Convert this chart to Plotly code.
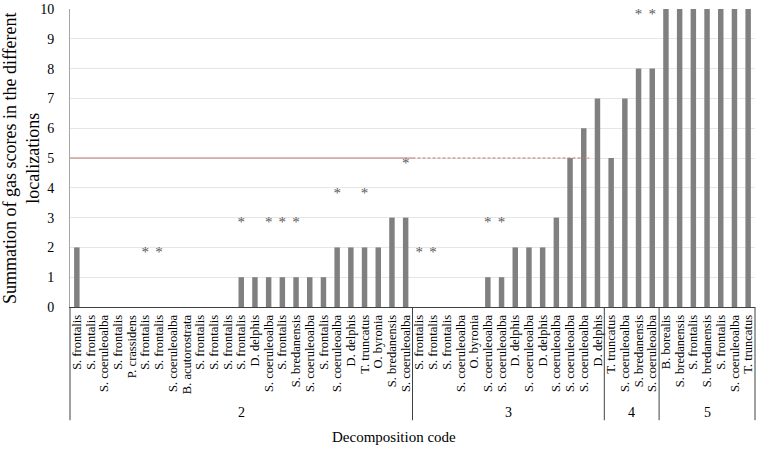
import plotly.graph_objects as go

# ---- data ----
group_codes = ["2", "3", "4", "5"]
group_sizes = [25, 14, 4, 7]

species = [
    # code 2
    "S. frontalis", "S. frontalis", "S. coeruleoalba", "S. frontalis", "P. crassidens",
    "S. frontalis", "S. frontalis", "S. coeruleoalba", "B. acutorostrata", "S. frontalis",
    "S. frontalis", "S. frontalis", "S. frontalis", "D. delphis", "S. coeruleoalba",
    "S. frontalis", "S. bredanensis", "S. coeruleoalba", "S. frontalis", "S. coeruleoalba",
    "D. delphis", "T. truncatus", "O. byronia", "S. bredanensis", "S. coeruleoalba",
    # code 3
    "S. frontalis", "S. frontalis", "S. frontalis", "S. coeruleoalba", "O. byronia",
    "S. coeruleoalba", "S. coeruleoalba", "D. delphis", "S. coeruleoalba", "D. delphis",
    "S. coeruleoalba", "S. coeruleoalba", "S. coeruleoalba", "D. delphis",
    # code 4
    "T. truncatus", "S. coeruleoalba", "S. bredanensis", "S. coeruleoalba",
    # code 5
    "B. borealis", "S. bredanensis", "S. frontalis", "S. bredanensis", "S. frontalis",
    "S. coeruleoalba", "T. truncatus",
]

gas_scores = [
    2, 0, 0, 0, 0, 0, 0, 0, 0, 0, 0, 0, 1, 1, 1, 1, 1, 1, 1, 2, 2, 2, 2, 3, 3,
    0, 0, 0, 0, 0, 1, 1, 2, 2, 2, 3, 5, 6, 7,
    5, 7, 8, 8,
    10, 10, 10, 10, 10, 10, 10,
]

# height at which an asterisk is shown (None = no asterisk)
asterisk_y = [
    None, None, None, None, None, 1.8, 1.8, None, None, None, None, None, 2.8, None, 2.8,
    2.8, 2.8, None, None, 3.8, None, 3.8, None, None, 4.8,
    1.8, 1.8, None, None, None, 2.8, 2.8, None, None, None, None, None, None, None,
    None, None, 9.8, 9.8,
    None, None, None, None, None, None, None,
]

threshold = 5
y_ticks = list(range(0, 11))

FONT = "Liberation Serif, Times New Roman, serif"
n = len(species)
xs = list(range(n))

fig = go.Figure()
fig.add_trace(go.Bar(
    x=xs, y=gas_scores, marker=dict(color="#808080", line=dict(width=0)),
    width=0.4, showlegend=False, hoverinfo="skip",
))

ax_x = [x for x, a in zip(xs, asterisk_y) if a is not None]
ax_y = [a for a in asterisk_y if a is not None]
fig.add_trace(go.Scatter(
    x=ax_x, y=ax_y, mode="text", text=["*"] * len(ax_x),
    textposition="middle center",
    textfont=dict(family=FONT, size=15, color="#595959"),
    showlegend=False, hoverinfo="skip", cliponaxis=False,
))

# threshold line: solid across code 2, dashed across code 3
end2 = group_sizes[0] - 0.5
fig.add_shape(type="line", xref="x", yref="y", x0=-0.5, x1=end2, y0=threshold, y1=threshold,
              line=dict(color="#c0746e", width=1))
fig.add_shape(type="line", xref="x", yref="y", x0=end2, x1=end2 + group_sizes[1] - 1.1,
              y0=threshold, y1=threshold, line=dict(color="#c0746e", width=1, dash="3px,2px"))

# group table lines and labels
bottom = -0.38
fig.add_shape(type="line", xref="paper", yref="paper", x0=0, x1=0, y0=bottom, y1=0,
              line=dict(color="#404040", width=1))
fig.add_shape(type="line", xref="paper", yref="paper", x0=1, x1=1, y0=bottom, y1=0,
              line=dict(color="#404040", width=1))
start = 0
for code, size in zip(group_codes, group_sizes):
    end = start + size
    if end < n:
        fig.add_shape(type="line", xref="x", yref="paper", x0=end - 0.5, x1=end - 0.5,
                      y0=bottom, y1=0, line=dict(color="#404040", width=1))
    fig.add_annotation(x=(start + end - 1) / 2, y=-0.353, xref="x", yref="paper",
                       text=code, showarrow=False, yanchor="middle",
                       font=dict(family=FONT, size=14, color="#000000"))
    start = end

fig.add_annotation(x=0.473, y=-0.437, xref="paper", yref="paper",
                   text="Decomposition code", showarrow=False, yanchor="middle",
                   font=dict(family=FONT, size=15, color="#000000"))
fig.add_annotation(x=-0.0715, y=0.5, xref="paper", yref="paper", textangle=-90,
                   text="Summation of gas scores in the different<br>localizations",
                   showarrow=False, xanchor="center", yanchor="middle",
                   font=dict(family=FONT, size=18, color="#000000"))

fig.update_layout(
    width=757, height=450,
    margin=dict(l=70, r=2, t=7, b=143),
    paper_bgcolor="white", plot_bgcolor="white",
    font=dict(family=FONT, color="#000000"),
    xaxis=dict(
        range=[-0.5, n - 0.5], tickmode="array", tickvals=xs, ticktext=species,
        tickangle=-90, tickfont=dict(family=FONT, size=12.5, color="#000000"),
        showgrid=False, zeroline=False, showline=True, linecolor="#404040", linewidth=1,
        ticks="", ticklabelstandoff=2, ticklabeloverflow="allow",
    ),
    yaxis=dict(
        range=[0, 10], tickmode="array", tickvals=y_ticks,
        tickfont=dict(family=FONT, size=14, color="#000000"),
        showgrid=True, gridcolor="#e6e6e6", gridwidth=1, zeroline=False,
        showline=True, linecolor="#a6a6a6", linewidth=1, ticks="", ticklabelstandoff=12,
        ticklabeloverflow="allow",
    ),
)

fig.write_html("out.html", config={"displayModeBar": False},
               post_script="document.body.style.margin='0';")
